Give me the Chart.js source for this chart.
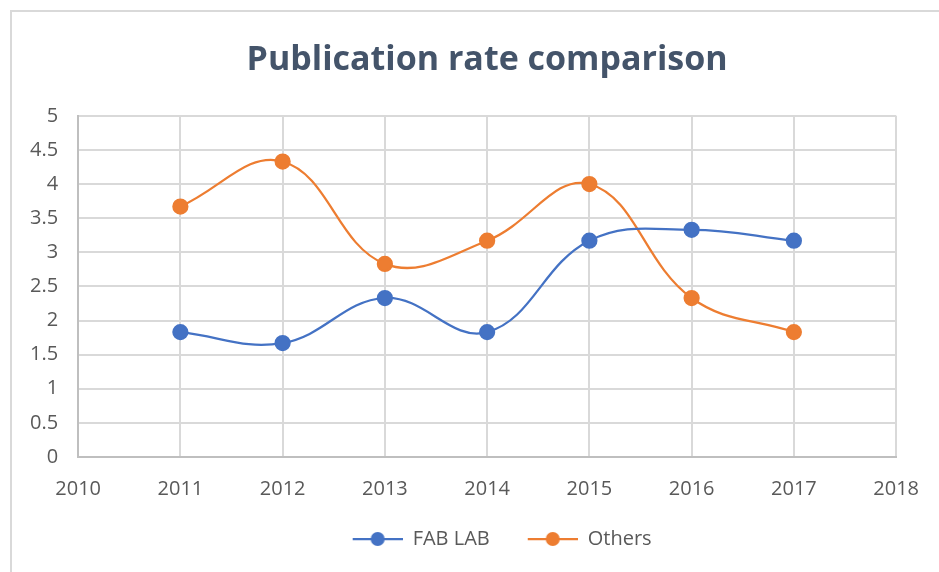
<!DOCTYPE html>
<html>
<head>
<meta charset="utf-8">
<script src="https://cdn.jsdelivr.net/npm/chart.js@4"></script>
<style>
  html, body { margin: 0; padding: 0; background: #fff; }
  #frame {
    position: absolute; left: 10px; top: 10px; width: 940px; height: 570px;
    border-left: 2px solid #d9d9d9; border-top: 2px solid #d9d9d9;
  }
  #wrap { position: absolute; left: 0; top: 0; width: 939px; height: 572px; }
</style>
</head>
<body>
<div id="frame"></div>
<div id="wrap"><canvas id="chart"></canvas></div>
<script>
// ============ DATA ============

const years = [2011, 2012, 2013, 2014, 2015, 2016, 2017];
const fabLab = [1.83, 1.67, 2.33, 1.83, 3.17, 3.33, 3.17];
const others = [3.67, 4.33, 2.83, 3.17, 4.0, 2.33, 1.83];
const seriesNames = ['FAB LAB', 'Others'];

const BLUE = '#4472c4';
const ORANGE = '#ed7d31';
const TEXT = '#595959';

// legend marker: short line with a dot (left part left blank as spacing)
function legendMarker(color) {
  const c = document.createElement('canvas');
  c.width = 80; c.height = 16;
  const g = c.getContext('2d');
  g.strokeStyle = color;
  g.lineWidth = 2.25;
  g.beginPath(); g.moveTo(30, 8); g.lineTo(80, 8); g.stroke();
  g.fillStyle = color;
  g.beginPath(); g.arc(55, 8, 7, 0, Math.PI * 2); g.fill();
  return c;
}

function toPoints(values) {
  return years.map((y, i) => ({ x: y, y: values[i] }));
}

const ctx = document.getElementById('chart').getContext('2d');

new Chart(ctx, {
  type: 'line',
  data: {
    datasets: [
      {
        label: seriesNames[0],
        data: toPoints(fabLab),
        borderColor: BLUE,
        backgroundColor: BLUE,
        borderWidth: 2.25,
        pointRadius: 7,
        pointHoverRadius: 7,
        tension: 0.4,
        pointStyle: 'circle'
      },
      {
        label: seriesNames[1],
        data: toPoints(others),
        borderColor: ORANGE,
        backgroundColor: ORANGE,
        borderWidth: 2.25,
        pointRadius: 7,
        pointHoverRadius: 7,
        tension: 0.4,
        pointStyle: 'circle'
      }
    ]
  },
  options: {
    responsive: true,
    maintainAspectRatio: false,
    animation: false,
    layout: { padding: { left: 10, right: 28, top: 18, bottom: 13 } },
    plugins: {
      title: {
        display: true,
        fullSize: false,
        text: 'Publication rate comparison',
        color: '#44546a',
        font: { family: 'Open Sans', size: 34, weight: 'bold' },
        padding: { top: 22, bottom: 35 }
      },
      legend: {
        position: 'bottom',
        fullSize: false,
        labels: {
          color: TEXT,
          font: { family: 'Open Sans', size: 20 },
          usePointStyle: true,
          pointStyleWidth: 80,
          padding: 8,
          generateLabels: (chart) => chart.data.datasets.map((ds, i) => ({
            text: ds.label,
            fillStyle: ds.borderColor,
            strokeStyle: ds.borderColor,
            lineWidth: 0,
            pointStyle: legendMarker(ds.borderColor),
            fontColor: TEXT,
            datasetIndex: i
          }))
        }
      },
      tooltip: { enabled: false }
    },
    scales: {
      x: {
        type: 'linear',
        min: 2010,
        max: 2018,
        ticks: {
          stepSize: 1,
          color: TEXT,
          font: { family: 'Open Sans', size: 20 },
          padding: 20,
          callback: (v) => String(v)
        },
        grid: { color: '#d9d9d9', lineWidth: 2, drawTicks: false },
        border: { color: '#bfbfbf', width: 2 }
      },
      y: {
        min: 0,
        max: 5,
        ticks: {
          stepSize: 0.5,
          color: TEXT,
          font: { family: 'Open Sans', size: 20 },
          padding: 20,
          callback: (v) => String(Math.round(v * 10) / 10)
        },
        grid: { color: '#d9d9d9', lineWidth: 2, drawTicks: false },
        border: { color: '#bfbfbf', width: 2 }
      }
    }
  }
});
</script>
</body>
</html>
